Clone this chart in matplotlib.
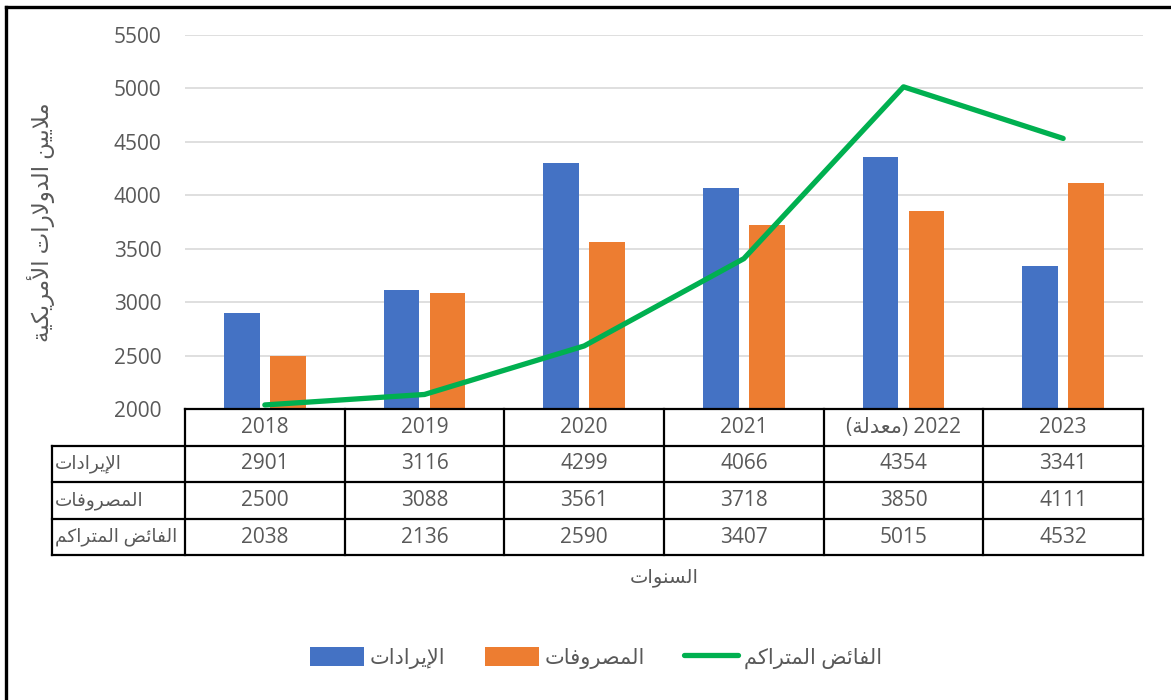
import unicodedata
import numpy as np
import matplotlib
matplotlib.use('Agg')
import matplotlib.pyplot as plt
import matplotlib.transforms as mtransforms
from matplotlib.lines import Line2D
from matplotlib.patches import Patch

# --- dane ---
years = ['2018', '2019', '2020', '2021', '2022', '2023']
revenues = [2901, 3116, 4299, 4066, 4354, 3341]
expenses = [2500, 3088, 3561, 3718, 3850, 4111]
surplus = [2038, 2136, 2590, 3407, 5015, 4532]
row_names = ['الإيرادات', 'المصروفات', 'الفائض المتراكم']
revised_note = 'معدلة'
y_title = 'ملايين الدولارات الأمريكية'
x_title = 'السنوات'
yticks = [2000, 2500, 3000, 3500, 4000, 4500, 5000, 5500]

BLUE = '#4472C4'
ORANGE = '#ED7D31'
GREEN = '#00B050'
TXT = '#595959'


# --- prosty "reshaper" dla arabskiego (formy prezentacyjne + odwrócenie) ---
_codes = list(range(0x621, 0x63B)) + list(range(0x641, 0x64B))
_cnt = [1, 2, 2, 2, 2, 4, 2, 4, 2, 4, 4, 4, 4, 4, 2, 2, 2, 2, 4, 4, 4, 4, 4, 4, 4, 4,
        4, 4, 4, 4, 4, 4, 4, 2, 2, 4]
FORMS = {}
_start = 0xFE80
for _c, _n in zip(_codes, _cnt):
    FORMS[chr(_c)] = [chr(_start + k) for k in range(_n)]
    _start += _n
LAM_ALEF = {'\u0622': 0xFEF5, '\u0623': 0xFEF7, '\u0625': 0xFEF9, '\u0627': 0xFEFB}


def _joins_next(u):
    if len(u) == 2:
        return False
    return u in FORMS and len(FORMS[u]) == 4


def _joins_prev(u):
    if len(u) == 2:
        return True
    return u in FORMS and len(FORMS[u]) > 1


def ar(s):
    s = unicodedata.normalize('NFC', s)
    units = []
    i = 0
    while i < len(s):
        if s[i] == '\u0644' and i + 1 < len(s) and s[i + 1] in LAM_ALEF:
            units.append(s[i:i + 2])
            i += 2
        else:
            units.append(s[i])
            i += 1
    out = []
    for i, u in enumerate(units):
        p = i > 0 and _joins_next(units[i - 1]) and _joins_prev(u)
        n = _joins_next(u) and i + 1 < len(units) and _joins_prev(units[i + 1])
        if len(u) == 2:
            base = LAM_ALEF[u[1]]
            out.append(chr(base + 1) if p else chr(base))
        elif u in FORMS:
            f = FORMS[u]
            idx = 3 if (p and n) else 1 if p else 2 if n else 0
            out.append(f[idx])
        else:
            out.append(u)
    return ''.join(out)[::-1]


plt.rcParams['font.family'] = ['Open Sans', 'DejaVu Sans']

W, H = 1171, 700
fig = plt.figure(figsize=(W / 100, H / 100), dpi=100)

# obramowanie (widoczne tylko góra i lewa strona)
fig.add_artist(Line2D([6 / W, 1.0], [1 - 7 / H, 1 - 7 / H], color='black', lw=2.4))
fig.add_artist(Line2D([6 / W, 6 / W], [1 - 7 / H, 0], color='black', lw=2.4))

ax = fig.add_axes([185 / W, 1 - 409 / H, 958 / W, 374 / H])
x = np.arange(len(years))
bw = 0.225
off = 0.144

ax.bar(x - off, revenues, bw, color=BLUE, zorder=2)
ax.bar(x + off, expenses, bw, color=ORANGE, zorder=2)
ax.plot(x, surplus, color=GREEN, lw=3.8, solid_capstyle='round',
        solid_joinstyle='round', zorder=3)

ax.set_xlim(-0.5, len(years) - 0.5)
ax.set_ylim(2000, 5500)
ax.set_yticks(yticks)
ax.set_xticks([])
ax.yaxis.grid(True, color='#d9d9d9', lw=1.2)
ax.set_axisbelow(True)
for sp in ax.spines.values():
    sp.set_visible(False)
ax.tick_params(axis='y', length=0, pad=17, labelsize=15, labelcolor=TXT)

# --- tabela danych ---
trans = mtransforms.blended_transform_factory(ax.transData, ax.transAxes)
rh = 36.6 / 374
x_left = -0.5 - 133 / 159.67
x_right = len(years) - 0.5
lkw = dict(transform=trans, clip_on=False, color='black', lw=1.6, zorder=5)

ax.add_line(Line2D([-0.5, x_right], [0, 0], **lkw))
for r in range(1, 5):
    ax.add_line(Line2D([x_left, x_right], [-r * rh, -r * rh], **lkw))
for b in np.arange(len(years) + 1) - 0.5:
    ax.add_line(Line2D([b, b], [0, -4 * rh], **lkw))
ax.add_line(Line2D([x_left, x_left], [-rh, -4 * rh], **lkw))

year_labels = list(years)
year_labels[4] = '(' + ar(revised_note) + ') ' + years[4]
for i, lab in enumerate(year_labels):
    ax.text(i, -0.5 * rh, lab, transform=trans, ha='center', va='center',
            fontsize=15, color=TXT)

for r, vals in enumerate([revenues, expenses, surplus]):
    yc = -(r + 1.5) * rh
    ax.text(x_left + 0.02, yc, ar(row_names[r]), transform=trans, ha='left',
            va='center', fontsize=13.3, color=TXT)
    for i, v in enumerate(vals):
        ax.text(i, yc, str(v), transform=trans, ha='center', va='center',
                fontsize=15, color=TXT)

# tytuły osi
fig.text(41 / W, 1 - 222 / H, ar(y_title), rotation=90, ha='center', va='center',
         fontsize=16.5, color=TXT)
fig.text(664 / W, 1 - 578 / H, ar(x_title), ha='center', va='center',
         fontsize=14, color=TXT)

# legenda
handles = [Patch(facecolor=BLUE, edgecolor='none'),
           Patch(facecolor=ORANGE, edgecolor='none'),
           Line2D([], [], color=GREEN, lw=3.8, solid_capstyle='round')]
fig.legend(handles, [ar(n) for n in row_names], loc='center',
           bbox_to_anchor=(596 / W, 1 - 658 / H), ncol=3, frameon=False,
           fontsize=15, labelcolor=TXT, handlelength=2.6, handleheight=1.05,
           handletextpad=0.25, columnspacing=1.9)

fig.savefig('out.png', dpi=100)
